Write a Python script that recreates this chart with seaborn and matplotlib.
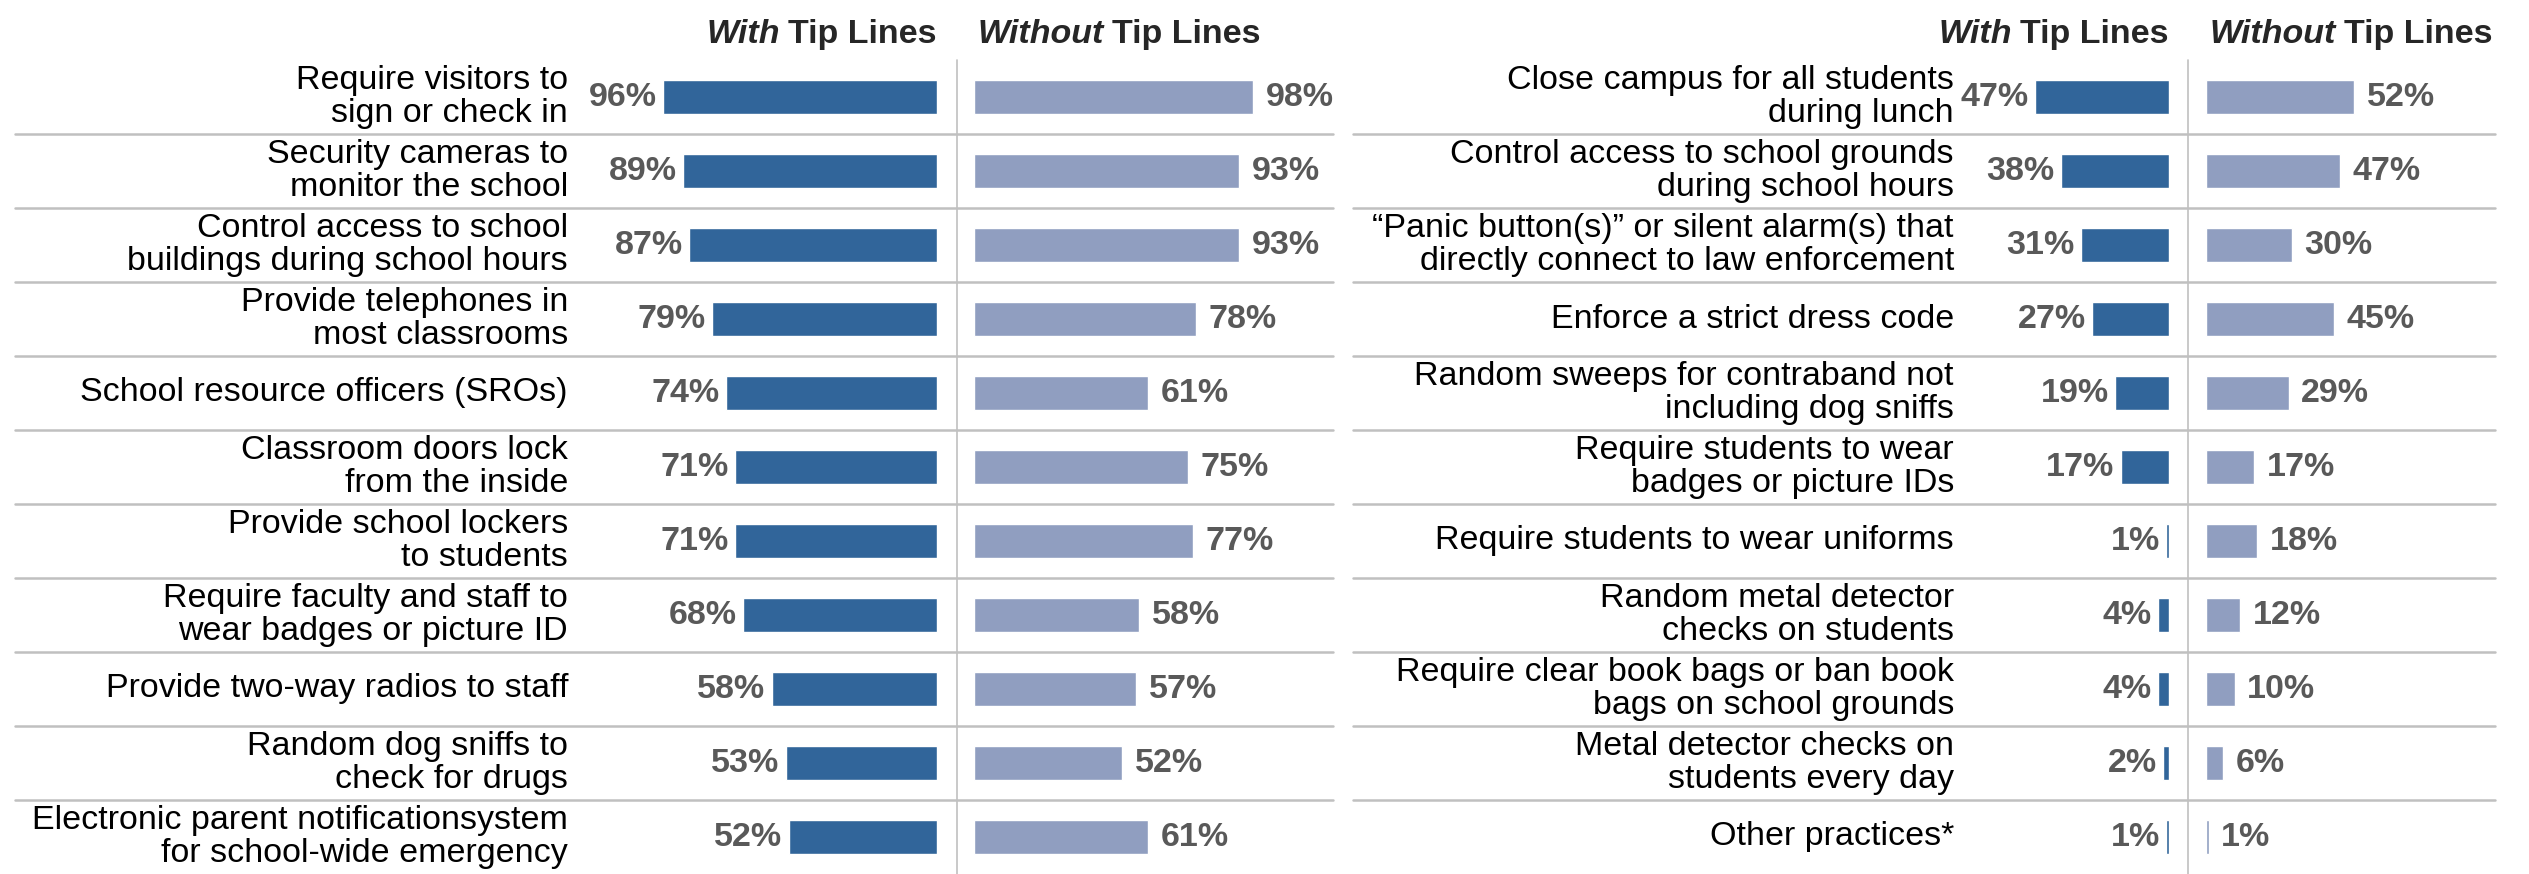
import matplotlib
matplotlib.use("Agg")
import matplotlib.pyplot as plt
import seaborn as sns
import pandas as pd
from matplotlib.lines import Line2D
from matplotlib.transforms import blended_transform_factory

# --- data ---
left_labels = [
    "Require visitors to\nsign or check in",
    "Security cameras to\nmonitor the school",
    "Control access to school\nbuildings during school hours",
    "Provide telephones in\nmost classrooms",
    "School resource officers (SROs)",
    "Classroom doors lock\nfrom the inside",
    "Provide school lockers\nto students",
    "Require faculty and staff to\nwear badges or picture ID",
    "Provide two-way radios to staff",
    "Random dog sniffs to\ncheck for drugs",
    "Electronic parent notificationsystem\nfor school-wide emergency",
]
left_with = [96, 89, 87, 79, 74, 71, 71, 68, 58, 53, 52]
left_without = [98, 93, 93, 78, 61, 75, 77, 58, 57, 52, 61]

right_labels = [
    "Close campus for all students\nduring lunch",
    "Control access to school grounds\nduring school hours",
    "\u201cPanic button(s)\u201d or silent alarm(s) that\ndirectly connect to law enforcement",
    "Enforce a strict dress code",
    "Random sweeps for contraband not\nincluding dog sniffs",
    "Require students to wear\nbadges or picture IDs",
    "Require students to wear uniforms",
    "Random metal detector\nchecks on students",
    "Require clear book bags or ban book\nbags on school grounds",
    "Metal detector checks on\nstudents every day",
    "Other practices*",
]
right_with = [47, 38, 31, 27, 19, 17, 1, 4, 4, 2, 1]
right_without = [52, 47, 30, 45, 29, 17, 18, 12, 10, 6, 1]

# --- style ---
W, H = 2529, 874
DARK = "#31659a"
LIGHT = "#909ec0"
PCT = "#595959"
GRID = "#c0c0c0"
FONT = "Liberation Sans"
LABEL_SIZE = 24.5
PCT_SIZE = 24.5
HEAD_SIZE = 24.5

sns.set_style("white")
plt.rcParams["font.family"] = [FONT, "DejaVu Sans"]

fig = plt.figure(figsize=(W / 100, H / 100), dpi=100)
TOP = 60  # px where the rows start
SCALE = 285  # px per 100 %


def fx(px):
    return px / W


def make_ax(x0, values, labels, color, reverse):
    ax = fig.add_axes([fx(x0), 0, fx(SCALE), (H - TOP) / H])
    df = pd.DataFrame({"label": labels, "value": values})
    sns.barplot(data=df, x="value", y="label", order=labels, orient="h",
                color=color, width=0.47, saturation=1, ax=ax)
    ax.set_xlim((100, 0) if reverse else (0, 100))
    ax.set_ylim(len(labels) - 0.5, -0.5)
    ax.axis("off")
    for i, v in enumerate(values):
        if reverse:
            ax.annotate(f"{v}%", (v, i), xytext=(-4.5, 0), textcoords="offset points",
                        ha="right", va="center", fontsize=PCT_SIZE, fontweight="bold", color=PCT)
        else:
            ax.annotate(f"{v}%", (v, i), xytext=(9, 0), textcoords="offset points",
                        ha="left", va="center", fontsize=PCT_SIZE, fontweight="bold", color=PCT)
    return ax


def panel(labels, with_vals, without_vals, zero_px, divider_px, start_px,
          label_px, line_x0, line_x1):
    ax_w = make_ax(zero_px - SCALE, with_vals, labels, DARK, True)
    make_ax(start_px, without_vals, labels, LIGHT, False)
    tr = blended_transform_factory(fig.transFigure, ax_w.transData)
    for i, lab in enumerate(labels):
        fig.text(fx(label_px), i, lab, transform=tr, ha="right", va="center",
                 fontsize=LABEL_SIZE, linespacing=1.06, color="black")
    for i in range(1, len(labels)):
        fig.add_artist(Line2D([fx(line_x0), fx(line_x1)], [i - 0.5, i - 0.5],
                              transform=tr, color=GRID, lw=1.8))
    fig.add_artist(Line2D([fx(divider_px)] * 2, [0, (H - TOP) / H],
                          transform=fig.transFigure, color=GRID, lw=1.2))

    # headers: italic first word, bold rest
    y_base = 1 - 43 / H
    renderer = fig.canvas.get_renderer()
    t1 = fig.text(fx(zero_px), y_base, "Tip Lines", ha="right", va="baseline",
                  fontsize=HEAD_SIZE, fontweight="bold")
    bb = t1.get_window_extent(renderer)
    fig.text(bb.x0 / W - fx(8), y_base, "With", ha="right", va="baseline",
             fontsize=HEAD_SIZE, fontweight="bold", style="italic")
    t2 = fig.text(fx(start_px + 4), y_base, "Without", ha="left", va="baseline",
                  fontsize=HEAD_SIZE, fontweight="bold", style="italic")
    bb = t2.get_window_extent(renderer)
    fig.text(bb.x1 / W + fx(8), y_base, "Tip Lines", ha="left", va="baseline",
             fontsize=HEAD_SIZE, fontweight="bold")


panel(left_labels, left_with, left_without, 937, 957, 974, 568, 15, 1333)
panel(right_labels, right_with, right_without, 2169, 2188, 2206, 1954, 1353, 2495)

fig.savefig("out.png", dpi=100)
